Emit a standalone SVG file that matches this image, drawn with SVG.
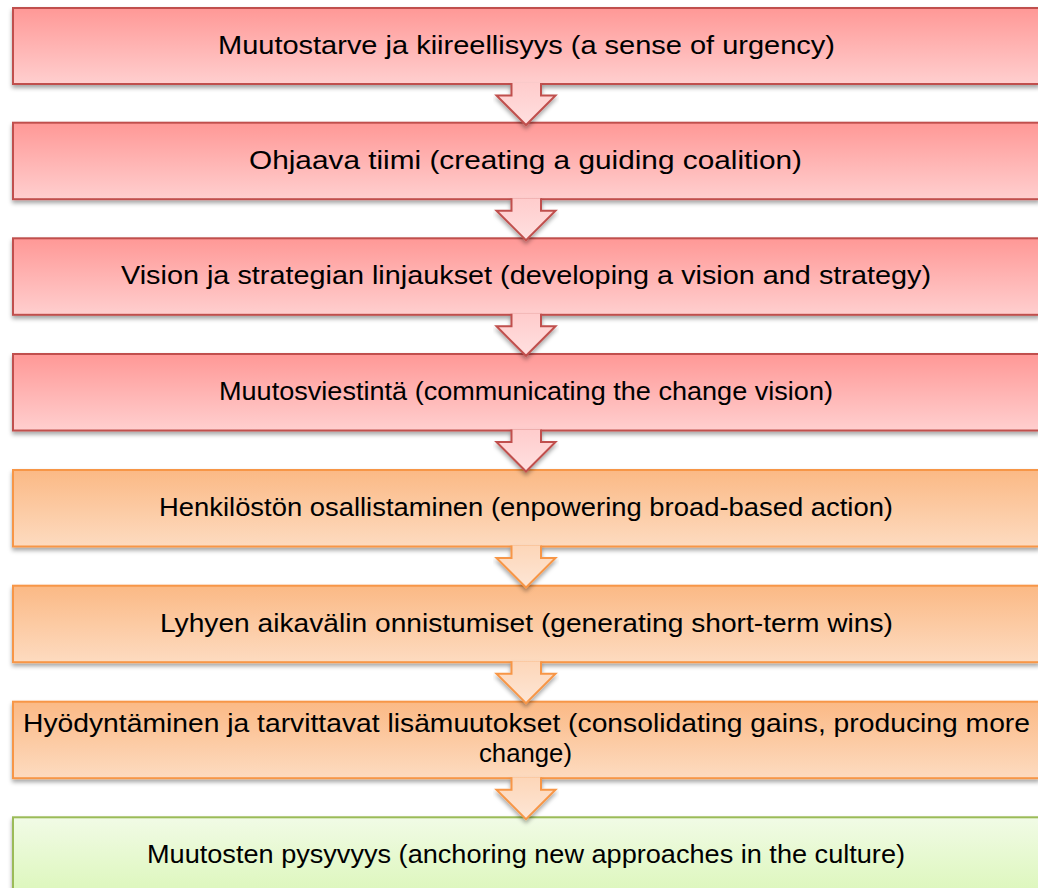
<svg xmlns="http://www.w3.org/2000/svg" width="1038" height="888" viewBox="0 0 1038 888">
<defs>
<linearGradient id="gRed" x1="0" y1="0" x2="0" y2="1"><stop offset="0" stop-color="#ff9896"/><stop offset="1" stop-color="#ffcfcf"/></linearGradient>
<linearGradient id="gOrange" x1="0" y1="0" x2="0" y2="1"><stop offset="0" stop-color="#fbb985"/><stop offset="1" stop-color="#fddbc0"/></linearGradient>
<linearGradient id="gGreen" x1="0" y1="0" x2="0" y2="1"><stop offset="0" stop-color="#f1fbe6"/><stop offset="1" stop-color="#d9f6b4"/></linearGradient>
<linearGradient id="aRed" x1="0" y1="0" x2="0" y2="1"><stop offset="0" stop-color="#ffcccc"/><stop offset="1" stop-color="#ffe0e0"/></linearGradient>
<linearGradient id="aOrange" x1="0" y1="0" x2="0" y2="1"><stop offset="0" stop-color="#fdd6b8"/><stop offset="1" stop-color="#fde6d6"/></linearGradient>
<filter id="sh" x="-5%" y="-20%" width="110%" height="160%"><feDropShadow dx="0" dy="3" stdDeviation="2" flood-color="#000" flood-opacity="0.35"/></filter>
</defs>
<style>
.red{fill:url(#gRed);stroke:#c0504d;stroke-width:2}
.orange{fill:url(#gOrange);stroke:#f79646;stroke-width:2}
.green{fill:url(#gGreen);stroke:#9bbb59;stroke-width:2}
.ar{fill:url(#aRed);stroke:#c0504d;stroke-width:2;stroke-linejoin:miter}
.ao{fill:url(#aOrange);stroke:#f79646;stroke-width:2;stroke-linejoin:miter}
text{font-family:"Liberation Sans",Arial,sans-serif;font-size:26px;fill:#000;text-anchor:middle}
</style>
<rect width="1038" height="888" fill="#fff"/>
<g id="node1"><rect class="red" x="13" y="8" width="1026" height="76" filter="url(#sh)"/><text x="526.5" y="53.7" textLength="617" lengthAdjust="spacingAndGlyphs">Muutostarve ja kiireellisyys (a sense of urgency)</text></g>
<g id="node2"><rect class="red" x="13" y="122.7" width="1026" height="76.5" filter="url(#sh)"/><text x="525.5" y="168.7" textLength="553" lengthAdjust="spacingAndGlyphs">Ohjaava tiimi (creating a guiding coalition)</text></g>
<g id="node3"><rect class="red" x="13" y="238.3" width="1026" height="76.5" filter="url(#sh)"/><text x="526" y="284.3" textLength="810" lengthAdjust="spacingAndGlyphs">Vision ja strategian linjaukset (developing a vision and strategy)</text></g>
<g id="node4"><rect class="red" x="13" y="354" width="1026" height="76.5" filter="url(#sh)"/><text x="526" y="400" textLength="614" lengthAdjust="spacingAndGlyphs">Muutosviestintä (communicating the change vision)</text></g>
<g id="node5"><rect class="orange" x="13" y="470" width="1026" height="76.5" filter="url(#sh)"/><text x="526" y="516" textLength="734" lengthAdjust="spacingAndGlyphs">Henkilöstön osallistaminen (enpowering broad-based action)</text></g>
<g id="node6"><rect class="orange" x="13" y="585.7" width="1026" height="76.5" filter="url(#sh)"/><text x="526.5" y="631.7" textLength="733" lengthAdjust="spacingAndGlyphs">Lyhyen aikavälin onnistumiset (generating short-term wins)</text></g>
<g id="node7"><rect class="orange" x="13" y="701.7" width="1026" height="76.5" filter="url(#sh)"/><text x="526.5" y="732.3" textLength="1007" lengthAdjust="spacingAndGlyphs">Hyödyntäminen ja tarvittavat lisämuutokset (consolidating gains, producing more</text><text x="525.5" y="762" textLength="93" lengthAdjust="spacingAndGlyphs">change)</text></g>
<g id="node8"><rect class="green" x="13" y="817.3" width="1026" height="90" filter="url(#sh)"/><text x="526" y="863.3" textLength="758" lengthAdjust="spacingAndGlyphs">Muutosten pysyvyys (anchoring new approaches in the culture)</text></g>
<g id="connectors">
<path class="ar" filter="url(#sh)" d="M541,83 V95.5 H555.5 L526,125 L496.5,95.5 H511.5 V83"/>
<path class="ar" filter="url(#sh)" d="M541,198.2 V210.7 H555.5 L526,240.2 L496.5,210.7 H511.5 V198.2"/>
<path class="ar" filter="url(#sh)" d="M541,313.8 V326.3 H555.5 L526,355.8 L496.5,326.3 H511.5 V313.8"/>
<path class="ar" filter="url(#sh)" d="M541,429.5 V442 H555.5 L526,471.5 L496.5,442 H511.5 V429.5"/>
<path class="ao" filter="url(#sh)" d="M541,545.5 V558 H555.5 L526,587.5 L496.5,558 H511.5 V545.5"/>
<path class="ao" filter="url(#sh)" d="M541,661.2 V673.7 H555.5 L526,703.2 L496.5,673.7 H511.5 V661.2"/>
<path class="ao" filter="url(#sh)" d="M541,777.2 V789.7 H555.5 L526,819.2 L496.5,789.7 H511.5 V777.2"/>
</g>
</svg>
